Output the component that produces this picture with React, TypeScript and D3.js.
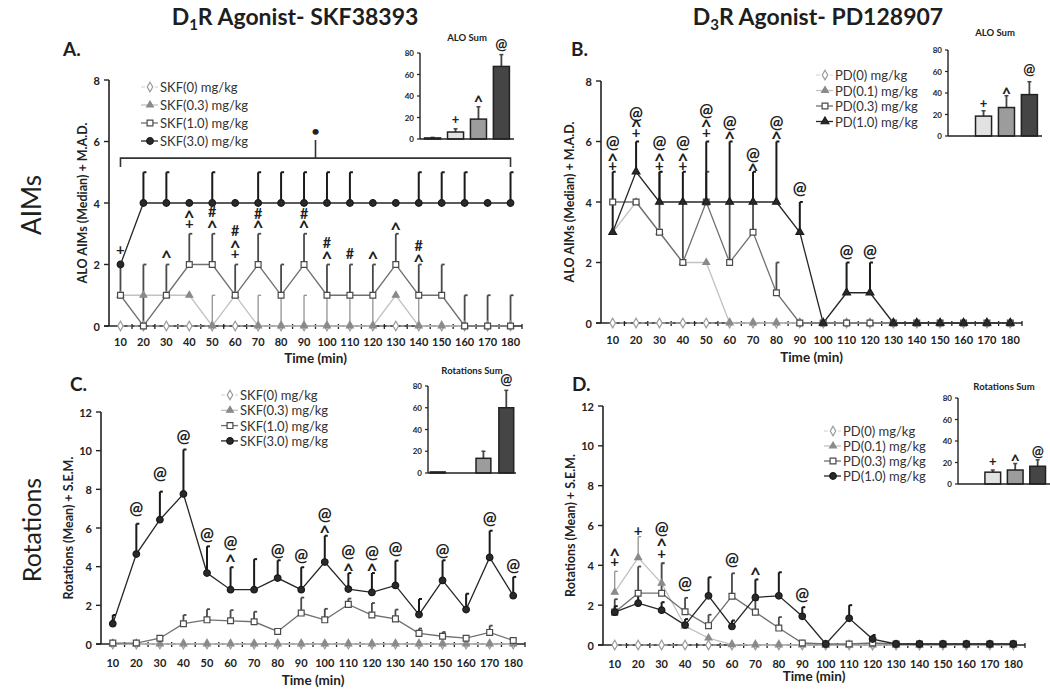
import React from 'react';
import * as d3 from 'd3';

const FONT = "Lato, 'Open Sans', sans-serif";

// ---------- categories ----------
const times = [10, 20, 30, 40, 50, 60, 70, 80, 90, 100, 110, 120, 130, 140, 150, 160, 170, 180];
const timeLabels = ['10', '20', '30', '40', '50', '60', '70', '80', '90', '100', '110', '120', '130', '140', '150', '160', '170', '180'];
const skfLegend = ['SKF(0) mg/kg', 'SKF(0.3) mg/kg', 'SKF(1.0) mg/kg', 'SKF(3.0) mg/kg'];
const pdLegend = ['PD(0) mg/kg', 'PD(0.1) mg/kg', 'PD(0.3) mg/kg', 'PD(1.0) mg/kg'];
const aimsTicks = [0, 2, 4, 6, 8];
const rotTicks = [0, 2, 4, 6, 8, 10, 12];
const insetTicks = [0, 20, 40, 60, 80];
const doseCats = ['0', '1', '2', '3'];

// ---------- A: ALO AIMs, SKF38393 (median + MAD) ----------
const aimsSkf0 = [0, 0, 0, 0, 0, 0, 0, 0, 0, 0, 0, 0, 0, 0, 0, 0, 0, 0];
const aimsSkf03 = [1, 1, 1, 1, 0, 1, 0, 0, 0, 0, 0, 0, 1, 0, 0, 0, 0, 0];
const aimsSkf1 = [1, 0, 1, 2, 2, 1, 2, 1, 2, 1, 1, 1, 2, 1, 1, 0, 0, 0];
const aimsSkf3 = [2, 4, 4, 4, 4, 4, 4, 4, 4, 4, 4, 4, 4, 4, 4, 4, 4, 4];
const aimsSkf0Err = [0, 0, 0, 0, 0, 0, 0, 0, 0, 0, 0, 0, 0, 0, 0, 0, 0, 0];
const aimsSkf03Err = [0, 0, 0, 0, 1, 0, 1, 1, 1, 1, 1, 1, 0, 1, 0, 0, 0, 0];
const aimsSkf1Err = [1, 2, 1, 1, 1, 1, 1, 1, 1, 1, 1, 1, 1, 1, 1, 1, 1, 1];
const aimsSkf3Err = [0, 1, 1, 0, 1, 0, 1, 1, 1, 1, 1, 0, 0, 1, 1, 1, 0, 1];
const aimsSkfMarks: [number, number, string][] = [
  [10, 2.46, '+'], [30, 2.33, '^'], [40, 3.3, '+'], [40, 3.63, '^'],
  [50, 3.32, '^'], [50, 3.7, '#'], [60, 2.33, '+'], [60, 2.65, '^'], [60, 3.08, '#'],
  [70, 3.3, '^'], [70, 3.65, '#'], [90, 3.3, '^'], [90, 3.65, '#'],
  [100, 2.29, '^'], [100, 2.69, '#'], [110, 2.35, '#'], [120, 2.29, '^'],
  [130, 3.24, '^'], [140, 2.2, '^'], [140, 2.62, '#'],
];

// ---------- B: ALO AIMs, PD128907 ----------
const aimsPd0 = [0, 0, 0, 0, 0, 0, 0, 0, 0, 0, 0, 0, 0, 0, 0, 0, 0, 0];
const aimsPd01 = [3, 4, 3, 2, 2, 0, 0, 0, 0, 0, 0, 0, 0, 0, 0, 0, 0, 0];
const aimsPd03 = [4, 4, 3, 2, 4, 2, 3, 1, 0, 0, 0, 0, 0, 0, 0, 0, 0, 0];
const aimsPd1 = [3, 5, 4, 4, 4, 4, 4, 4, 3, 0, 1, 1, 0, 0, 0, 0, 0, 0];
const aimsPd0Err = [0, 0, 0, 0, 0, 0, 0, 0, 0, 0, 0, 0, 0, 0, 0, 0, 0, 0];
const aimsPd01Err = [0, 0, 0, 0, 0, 0, 0, 0, 0, 0, 0, 0, 0, 0, 0, 0, 0, 0];
const aimsPd03Err = [0, 0, 2, 2, 1, 2, 1, 1, 0, 0, 0, 0, 0, 0, 0, 0, 0, 0];
const aimsPd1Err = [2, 1, 1, 1, 2, 2, 1, 2, 1, 0, 1, 1, 0, 0, 0, 0, 0, 0];
const aimsPdMarks: [number, number, string][] = [
  [10, 5.19, '+'], [10, 5.49, '^'], [10, 5.93, '@'],
  [20, 6.29, '+'], [20, 6.6, '^'], [20, 6.9, '@'],
  [30, 5.19, '+'], [30, 5.49, '^'], [30, 5.93, '@'],
  [40, 5.19, '+'], [40, 5.49, '^'], [40, 5.93, '@'],
  [50, 6.29, '+'], [50, 6.6, '^'], [50, 7.0, '@'],
  [60, 6.2, '^'], [60, 6.6, '@'], [70, 5.16, '^'], [70, 5.55, '@'],
  [80, 6.2, '^'], [80, 6.6, '@'], [90, 4.4, '@'], [110, 2.33, '@'], [120, 2.33, '@'],
];

// ---------- C: Rotations, SKF38393 (mean + SEM) ----------
const rotSkf0 = [0, 0, 0, 0, 0, 0, 0, 0, 0, 0, 0, 0, 0, 0, 0, 0, 0, 0];
const rotSkf03 = [0, 0, 0, 0, 0, 0, 0, 0, 0, 0, 0, 0, 0, 0, 0, 0, 0, 0];
const rotSkf1 = [0.05, 0.05, 0.3, 1.05, 1.25, 1.2, 1.15, 0.65, 1.6, 1.25, 2.05, 1.5, 1.3, 0.55, 0.4, 0.3, 0.6, 0.18];
const rotSkf3 = [1.05, 4.65, 6.43, 7.76, 3.67, 2.81, 2.81, 3.41, 2.81, 4.24, 2.84, 2.67, 3.03, 1.52, 3.29, 1.78, 4.48, 2.5];
const rotSkf0Err = [0, 0, 0, 0, 0, 0, 0, 0, 0, 0, 0, 0, 0, 0, 0, 0, 0, 0];
const rotSkf03Err = [0, 0, 0, 0, 0, 0, 0, 0, 0, 0, 0, 0, 0, 0, 0, 0, 0, 0];
const rotSkf1Err = [0.05, 0.05, 0.05, 0.45, 0.55, 0.55, 0.52, 0.1, 0.8, 0.57, 0.3, 0.62, 0.48, 0.25, 0.22, 0.12, 0.35, 0.05];
const rotSkf3Err = [0.45, 1.57, 1.45, 2.3, 1.38, 1.16, 1.58, 0.92, 1.16, 1.36, 0.83, 1.0, 1.28, 0.81, 1.04, 0.82, 1.38, 0.97];
const rotSkfMarks: [number, number, string][] = [
  [20, 6.95, '@'], [30, 8.76, '@'], [40, 10.7, '@'], [50, 5.6, '@'],
  [60, 4.45, '^'], [60, 5.2, '@'], [80, 4.8, '@'], [90, 4.5, '@'],
  [100, 5.95, '^'], [100, 6.64, '@'], [110, 4.0, '^'], [110, 4.74, '@'],
  [120, 3.98, '^'], [120, 4.7, '@'], [130, 4.88, '@'], [150, 4.8, '@'],
  [170, 6.43, '@'], [180, 4.0, '@'],
];

// ---------- D: Rotations, PD128907 ----------
const rotPd0 = [0, 0, 0, 0, 0, 0, 0, 0, 0, 0, 0, 0, 0, 0, 0, 0, 0, 0];
const rotPd01 = [2.65, 4.39, 3.1, 0.95, 0.35, 0.02, 0, 0, 0, 0, 0, 0, 0, 0, 0, 0, 0, 0];
const rotPd03 = [1.65, 2.6, 2.6, 1.67, 0.97, 2.45, 1.65, 0.85, 0.1, 0.05, 0.05, 0.1, 0.05, 0.05, 0.05, 0.05, 0.05, 0.05];
const rotPd1 = [1.65, 2.1, 1.75, 1.0, 2.47, 0.93, 2.39, 2.47, 1.44, 0.05, 1.34, 0.3, 0.05, 0.05, 0.05, 0.05, 0.05, 0.05];
const rotPd0Err = [0, 0, 0, 0, 0, 0, 0, 0, 0, 0, 0, 0, 0, 0, 0, 0, 0, 0];
const rotPd01Err = [1.05, 1.05, 1.04, 0, 0, 0, 0, 0, 0, 0, 0, 0, 0, 0, 0, 0, 0, 0];
const rotPd03Err = [0.65, 1.34, 1.5, 0.7, 0.55, 1.15, 0.6, 0.55, 0, 0, 0, 0, 0, 0, 0, 0, 0, 0];
const rotPd1Err = [0.3, 0.5, 0.4, 0.3, 0.93, 0.3, 0.9, 1.18, 0.46, 0.05, 0.66, 0.2, 0.05, 0, 0, 0, 0, 0];
const rotPdMarks: [number, number, string][] = [
  [10, 4.14, '+'], [10, 4.64, '^'], [20, 5.73, '+'],
  [30, 4.57, '+'], [30, 5.19, '^'], [30, 5.78, '@'],
  [40, 3.02, '@'], [60, 4.24, '@'], [70, 3.72, '^'], [90, 2.49, '@'],
];

// ---------- insets (sums) ----------
const aloSumSkf = [1, 6.5, 18.5, 67.5];
const aloSumSkfErr = [0.5, 3, 11.5, 11];
const aloSumSkfMarks: [number, number, string][] = [[1, 17.5, '+'], [2, 38, '^'], [3, 87, '@']];
const aloSumPd = [0, 18.5, 26.5, 38.5];
const aloSumPdErr = [0, 5, 11, 12];
const aloSumPdMarks: [number, number, string][] = [[1, 30.5, '+'], [2, 42.5, '^'], [3, 61, '@']];
const rotSumSkf = [1, 0, 13.5, 60];
const rotSumSkfErr = [0, 0, 6.5, 16];
const rotSumSkfMarks: [number, number, string][] = [[3, 85.5, '@']];
const rotSumPd = [0, 11, 13, 16.5];
const rotSumPdErr = [0, 2, 6, 6];
const rotSumPdMarks: [number, number, string][] = [[1, 20.5, '+'], [2, 25, '^'], [3, 30, '@']];

// ---------- styles ----------
const sty0 = { symbol: d3.symbolDiamond, size: 26, fill: '#fff', stroke: '#9a9a9a', line: '#cfcfcf', dash: '4,3', lw: 1, ew: 1 };
const sty1 = { symbol: d3.symbolTriangle, size: 20, fill: '#8a8a8a', stroke: '#8a8a8a', line: '#c2c2c2', dash: '', lw: 1.3, ew: 1.2 };
const sty2 = { symbol: d3.symbolSquare, size: 34, fill: '#fff', stroke: '#4a4a4a', line: '#707070', dash: '', lw: 1.3, ew: 1.8 };
const sty3 = { symbol: d3.symbolCircle, size: 34, fill: '#2a2a2a', stroke: '#1a1a1a', line: '#262626', dash: '', lw: 1.3, ew: 2 };
const sty3t = { ...sty3, symbol: d3.symbolTriangle, size: 26 };
const barFills = ['#f4f4f4', '#e2e2e2', '#9c9c9c', '#454545'];

type Sty = typeof sty0;
type Ser = { v: number[]; e: number[]; s: Sty; label: string };

function Marker({ s, x, y }: { s: Sty; x: number; y: number }) {
  const p = d3.symbol().type(s.symbol).size(s.size)() as string;
  return <path d={p} transform={`translate(${x},${y})`} fill={s.fill} stroke={s.stroke} strokeWidth={1.2} />;
}

// per-glyph font size and baseline shift so the glyph's visual centre sits on the target y
const glyph: Record<string, { k: number; off: number }> = {
  '+': { k: 1.0, off: 0.33 },
  '^': { k: 1.25, off: 0.58 },
  '@': { k: 1.1, off: 0.27 },
  '#': { k: 0.95, off: 0.36 },
};

// a stack of significance symbols drawn as ONE text element
function MarkStack({ x, ys, syms, size = 15 }: { x: number; ys: number[]; syms: string[]; size?: number }) {
  return (
    <text textAnchor="middle" fontFamily={FONT} fontWeight={700} fill="#1e1e1e">
      {syms.map((t, i) => {
        const g = glyph[t] || { k: 1, off: 0.35 };
        const fs = size * g.k;
        return <tspan key={i} x={x} y={ys[i] + fs * g.off} fontSize={fs}>{t}</tspan>;
      })}
    </text>
  );
}

type PanelCfg = {
  xr: [number, number]; y0: number; y1: number; ymax: number; ticks: number[];
  series: Ser[]; marks: [number, number, string][];
  legend: { x: number; y: number; gap: number };
  ylabel: string; ylabelX: number; xlabelY: number; tickLabelY: number;
  bracket?: { from: number; to: number; y: number; drop: number; stem: number; dot: number };
};

function LinePanel({ c }: { c: PanelCfg }) {
  const x = d3.scaleBand<string>().domain(timeLabels).range(c.xr);
  const bw = x.bandwidth();
  const cx = (i: number) => (x(timeLabels[i]) as number) + bw / 2;
  const y = d3.scaleLinear().domain([0, c.ymax]).range([c.y0, c.y1]);
  const line = d3.line<number>().x((_, i) => cx(i)).y((d) => y(d));
  const midY = (c.y0 + c.y1) / 2;
  const idx = (t: number) => times.indexOf(t);
  const groups = d3.groups(c.marks, (m) => m[0]);
  return (
    <g fontFamily={FONT}>
      {/* axes */}
      <line x1={c.xr[0]} x2={c.xr[0]} y1={c.y0} y2={c.y1} stroke="#222" strokeWidth={1.6} />
      <line x1={c.xr[0] - 5} x2={c.xr[1]} y1={c.y0} y2={c.y0} stroke="#222" strokeWidth={1.6} />
      {c.ticks.map((t) => (
        <g key={t}>
          <line x1={c.xr[0] - 5} x2={c.xr[0]} y1={y(t)} y2={y(t)} stroke="#222" strokeWidth={1.4} />
          <text x={c.xr[0] - 9} y={y(t)} textAnchor="end" dominantBaseline="central" fontSize={11} fontWeight={700} fill="#222">{t}</text>
        </g>
      ))}
      {timeLabels.map((t, i) => (
        <g key={t}>
          <line x1={(x(t) as number) + bw} x2={(x(t) as number) + bw} y1={c.y0 - 2} y2={c.y0 + 3} stroke="#222" strokeWidth={1.3} />
          <text x={cx(i)} y={c.tickLabelY} textAnchor="middle" dominantBaseline="central" fontSize={11} fontWeight={700} fill="#222">{t}</text>
        </g>
      ))}
      <text x={(c.xr[0] + c.xr[1]) / 2} y={c.xlabelY} textAnchor="middle" dominantBaseline="central" fontSize={13.5} fontWeight={700} fill="#222">Time (min)</text>
      <text transform={`translate(${c.ylabelX},${midY}) rotate(-90)`} textAnchor="middle" dominantBaseline="central" fontSize={12.5} fontWeight={700} fill="#222">{c.ylabel}</text>
      {/* series lines */}
      {c.series.map((s, k) => (
        <path key={'l' + k} d={line(s.v) as string} fill="none" stroke={s.s.line} strokeWidth={s.s.lw} strokeDasharray={s.s.dash || undefined} />
      ))}
      {/* error bars */}
      {c.series.map((s, k) => s.v.map((v, i) => s.e[i] > 0 ? (
        <g key={`e${k}-${i}`} stroke={s.s.line === '#cfcfcf' ? '#aaa' : s.s.stroke} strokeWidth={s.s.ew}>
          <line x1={cx(i)} x2={cx(i)} y1={y(v)} y2={y(v + s.e[i])} />
          <line x1={cx(i)} x2={cx(i) + 3} y1={y(v + s.e[i])} y2={y(v + s.e[i])} />
        </g>
      ) : null))}
      {/* markers */}
      {c.series.map((s, k) => s.v.map((v, i) => <Marker key={`m${k}-${i}`} s={s.s} x={cx(i)} y={y(v)} />))}
      {/* significance marks */}
      {groups.map(([t, ms]) => (
        <MarkStack key={'s' + t} x={cx(idx(t))} ys={ms.map((m) => y(m[1]))} syms={ms.map((m) => m[2])} />
      ))}
      {c.bracket && (() => {
        const b = c.bracket!;
        const xa = cx(idx(b.from)), xb = cx(idx(b.to)), xm = (xa + xb) / 2;
        return (
          <g stroke="#333" strokeWidth={1.6} fill="none">
            <path d={`M${xa},${y(b.y - b.drop)}V${y(b.y)}H${xb}V${y(b.y - b.drop)}`} />
            <line x1={xm} x2={xm} y1={y(b.y)} y2={y(b.stem)} />
            <text x={xm} y={y(b.dot)} textAnchor="middle" dominantBaseline="central" fontSize={14} fontWeight={700} fill="#222" stroke="none">•</text>
          </g>
        );
      })()}
      {/* legend */}
      {c.series.map((s, k) => {
        const ly = c.legend.y + k * c.legend.gap;
        return (
          <g key={'lg' + k}>
            <line x1={c.legend.x - 9} x2={c.legend.x + 8} y1={ly} y2={ly} stroke={s.s.line} strokeWidth={s.s.lw} strokeDasharray={s.s.dash || undefined} />
            <Marker s={s.s} x={c.legend.x} y={ly} />
            <text x={c.legend.x + 10} y={ly} dominantBaseline="central" fontSize={13} fill="#333">{s.label}</text>
          </g>
        );
      })}
    </g>
  );
}

type InsetCfg = {
  xr: [number, number]; y0: number; y1: number; pin: number; pout: number;
  v: number[]; e: number[]; marks: [number, number, string][]; title: string; titleY: number;
};

function InsetPanel({ c }: { c: InsetCfg }) {
  const x = d3.scaleBand<string>().domain(doseCats).range(c.xr).paddingInner(c.pin).paddingOuter(c.pout);
  const y = d3.scaleLinear().domain([0, 80]).range([c.y0, c.y1]);
  const bw = x.bandwidth();
  return (
    <g fontFamily={FONT}>
      <text x={(c.xr[0] + c.xr[1]) / 2} y={c.titleY} textAnchor="middle" fontSize={9.5} fontWeight={700} fill="#222">{c.title}</text>
      {c.v.map((v, i) => {
        const x0 = x(doseCats[i]) as number;
        const xc = x0 + bw / 2;
        return (
          <g key={i}>
            {c.e[i] > 0 && <line x1={xc} x2={xc} y1={y(v)} y2={y(v + c.e[i])} stroke="#444" strokeWidth={1.8} />}
            {c.e[i] > 0 && <line x1={xc - 2} x2={xc + 2} y1={y(v + c.e[i])} y2={y(v + c.e[i])} stroke="#444" strokeWidth={1.5} />}
            {v > 0 && <rect x={x0} y={y(v)} width={bw} height={c.y0 - y(v)} fill={barFills[i]} stroke="#222" strokeWidth={1.5} />}
          </g>
        );
      })}
      <line x1={c.xr[0]} x2={c.xr[0]} y1={c.y0} y2={c.y1} stroke="#222" strokeWidth={1.4} />
      <line x1={c.xr[0]} x2={c.xr[1]} y1={c.y0} y2={c.y0} stroke="#222" strokeWidth={1.4} />
      {insetTicks.map((t) => (
        <g key={t}>
          <line x1={c.xr[0] - 3} x2={c.xr[0]} y1={y(t)} y2={y(t)} stroke="#222" strokeWidth={1.2} />
          <text x={c.xr[0] - 6} y={y(t)} textAnchor="end" dominantBaseline="central" fontSize={8} fontWeight={700} fill="#222">{t}</text>
        </g>
      ))}
      {c.marks.map(([i, v, m], k) => (
        <MarkStack key={k} x={(x(doseCats[i]) as number) + bw / 2} ys={[y(v)]} syms={[m]} size={13} />
      ))}
    </g>
  );
}

const panelA: PanelCfg = {
  xr: [109, 522], y0: 326, y1: 80, ymax: 8, ticks: aimsTicks,
  series: [
    { v: aimsSkf0, e: aimsSkf0Err, s: sty0, label: skfLegend[0] },
    { v: aimsSkf03, e: aimsSkf03Err, s: sty1, label: skfLegend[1] },
    { v: aimsSkf1, e: aimsSkf1Err, s: sty2, label: skfLegend[2] },
    { v: aimsSkf3, e: aimsSkf3Err, s: sty3, label: skfLegend[3] },
  ],
  marks: aimsSkfMarks, legend: { x: 150, y: 87, gap: 18 },
  ylabel: 'ALO AIMs (Median) + M.A.D.', ylabelX: 82, xlabelY: 358, tickLabelY: 341,
  bracket: { from: 10, to: 180, y: 5.46, drop: 0.29, stem: 6.05, dot: 6.35 },
};
const panelB: PanelCfg = {
  xr: [601, 1022], y0: 323, y1: 81, ymax: 8, ticks: aimsTicks,
  series: [
    { v: aimsPd0, e: aimsPd0Err, s: sty0, label: pdLegend[0] },
    { v: aimsPd01, e: aimsPd01Err, s: sty1, label: pdLegend[1] },
    { v: aimsPd03, e: aimsPd03Err, s: sty2, label: pdLegend[2] },
    { v: aimsPd1, e: aimsPd1Err, s: sty3t, label: pdLegend[3] },
  ],
  marks: aimsPdMarks, legend: { x: 825, y: 75, gap: 15.5 },
  ylabel: 'ALO AIMs (Median) + M.A.D.', ylabelX: 569, xlabelY: 357, tickLabelY: 339,
};
const panelC: PanelCfg = {
  xr: [101, 525], y0: 644, y1: 412, ymax: 12, ticks: rotTicks,
  series: [
    { v: rotSkf0, e: rotSkf0Err, s: sty0, label: skfLegend[0] },
    { v: rotSkf03, e: rotSkf03Err, s: sty1, label: skfLegend[1] },
    { v: rotSkf1, e: rotSkf1Err, s: sty2, label: skfLegend[2] },
    { v: rotSkf3, e: rotSkf3Err, s: sty3, label: skfLegend[3] },
  ],
  marks: rotSkfMarks, legend: { x: 230, y: 395, gap: 15.3 },
  ylabel: 'Rotations (Mean) + S.E.M.', ylabelX: 68, xlabelY: 680, tickLabelY: 662,
};
const panelD: PanelCfg = {
  xr: [603, 1025], y0: 645, y1: 406, ymax: 12, ticks: rotTicks,
  series: [
    { v: rotPd0, e: rotPd0Err, s: sty0, label: pdLegend[0] },
    { v: rotPd01, e: rotPd01Err, s: sty1, label: pdLegend[1] },
    { v: rotPd03, e: rotPd03Err, s: sty2, label: pdLegend[2] },
    { v: rotPd1, e: rotPd1Err, s: sty3, label: pdLegend[3] },
  ],
  marks: rotPdMarks, legend: { x: 833, y: 431, gap: 15 },
  ylabel: 'Rotations (Mean) + S.E.M.', ylabelX: 570, xlabelY: 676, tickLabelY: 663,
};

const insetA: InsetCfg = { xr: [420, 514], y0: 139, y1: 53, pin: 0.3, pout: 0.2, v: aloSumSkf, e: aloSumSkfErr, marks: aloSumSkfMarks, title: 'ALO Sum', titleY: 41 };
const insetB: InsetCfg = { xr: [948, 1042], y0: 136, y1: 50, pin: 0.3, pout: 0.2, v: aloSumPd, e: aloSumPdErr, marks: aloSumPdMarks, title: 'ALO Sum', titleY: 36 };
const insetC: InsetCfg = { xr: [428, 516], y0: 473, y1: 386, pin: 0.35, pout: 0.1, v: rotSumSkf, e: rotSumSkfErr, marks: rotSumSkfMarks, title: 'Rotations Sum', titleY: 374 };
const insetD: InsetCfg = { xr: [958, 1050], y0: 484, y1: 398, pin: 0.3, pout: 0.2, v: rotSumPd, e: rotSumPdErr, marks: rotSumPdMarks, title: 'Rotations Sum', titleY: 390 };

export default function App() {
  return (
    <svg width={1050} height={690} style={{ position: 'absolute', left: 0, top: 0, background: '#fff' }}>
      <rect width={1050} height={690} fill="#fff" />
      <g fontFamily={FONT} fill="#1e1e1e">
        <text x={295} y={25} textAnchor="middle" fontSize={23} fontWeight={700}>
          D<tspan fontSize={15} dy={5}>1</tspan><tspan dy={-5}>R Agonist- SKF38393</tspan>
        </text>
        <text x={818} y={25} textAnchor="middle" fontSize={23} fontWeight={700}>
          D<tspan fontSize={15} dy={5}>3</tspan><tspan dy={-5}>R Agonist- PD128907</tspan>
        </text>
        <text transform="translate(31,205) rotate(-90)" textAnchor="middle" dominantBaseline="central" fontSize={26}>AIMs</text>
        <text transform="translate(31,530) rotate(-90)" textAnchor="middle" dominantBaseline="central" fontSize={25}>Rotations</text>
        <text x={63} y={56} fontSize={19} fontWeight={700}>A.</text>
        <text x={571} y={56} fontSize={19} fontWeight={700}>B.</text>
        <text x={70} y={391} fontSize={19} fontWeight={700}>C.</text>
        <text x={572} y={391} fontSize={19} fontWeight={700}>D.</text>
      </g>
      <LinePanel c={panelA} />
      <LinePanel c={panelB} />
      <LinePanel c={panelC} />
      <LinePanel c={panelD} />
      <InsetPanel c={insetA} />
      <InsetPanel c={insetB} />
      <InsetPanel c={insetC} />
      <InsetPanel c={insetD} />
    </svg>
  );
}
